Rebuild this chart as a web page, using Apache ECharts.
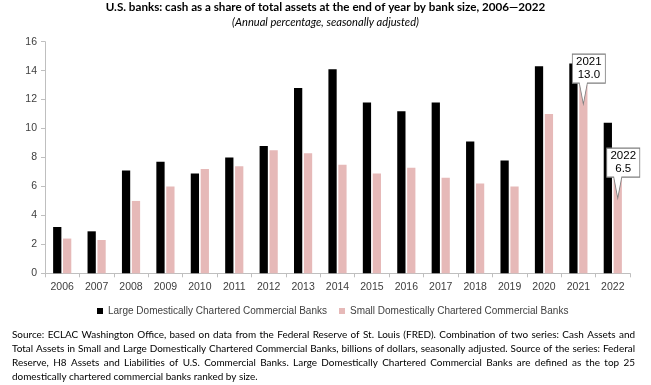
<!DOCTYPE html>
<html><head><meta charset="utf-8">
<script src="https://cdn.jsdelivr.net/npm/echarts@6/dist/echarts.min.js"></script>
<style>html,body{margin:0;padding:0;background:#fff}#c{width:651px;height:385px}</style>
</head><body><div id="c"></div>
<script>
const years = ['2006','2007','2008','2009','2010','2011','2012','2013','2014','2015','2016','2017','2018','2019','2020','2021','2022'];
const largeBanks = [3.2, 2.9, 7.1, 7.7, 6.9, 8.0, 8.8, 12.8, 14.1, 11.8, 11.2, 11.8, 9.1, 7.8, 14.3, 14.5, 10.4];
const smallBanks = [2.4, 2.3, 5.0, 6.0, 7.2, 7.4, 8.5, 8.3, 7.5, 6.9, 7.3, 6.6, 6.2, 6.0, 11.0, 13.0, 6.5];
const annotatedYears = ['2021', '2022'];
const yTicks = [0, 2, 4, 6, 8, 10, 12, 14, 16];
const seriesNames = ['Large Domestically Chartered Commercial Banks', 'Small Domestically Chartered Commercial Banks'];
const titleText = 'U.S. banks: cash as a share of total assets at the end of year by bank size, 2006\u20142022';
const subtitleText = '(Annual percentage, seasonally adjusted)';
const sourceLines = [
  'Source: ECLAC Washington Office, based on data from the Federal Reserve of St. Louis (FRED). Combination of two series: Cash Assets and',
  'Total Assets in Small and Large Domestically Chartered Commercial Banks, billions of dollars, seasonally adjusted. Source of the series: Federal',
  'Reserve, H8 Assets and Liabilities of U.S. Commercial Banks. Large Domestically Chartered Commercial Banks are defined as the top 25',
  'domestically chartered commercial banks ranked by size.'
];

const chart = echarts.init(document.getElementById('c'), null, {renderer: 'canvas'});
const ctx = document.createElement('canvas').getContext('2d');
function fitSize(text, weight, style, family, targetW) {
  ctx.font = style + ' ' + weight + ' 20px ' + family;
  return 20 * targetW / ctx.measureText(text).width;
}
const humanist = 'Lato, "Open Sans", sans-serif';

const titleSize = fitSize(titleText, 'bold', 'normal', humanist, 440);
const subSize = fitSize(subtitleText, 'normal', 'italic', humanist, 187);

// justified footnote
const srcSize = fitSize(sourceLines[3], 'normal', 'normal', humanist, 246);
const srcFont = srcSize.toFixed(2) + 'px ' + humanist;
ctx.font = srcFont;
const srcLeft = 12, srcRight = 635, srcTop = 335, srcLH = 13.8;
const footGraphics = [];
sourceLines.forEach((line, li) => {
  const y = srcTop + li * srcLH;
  const words = line.split(' ');
  const widths = words.map(w => ctx.measureText(w).width);
  const total = widths.reduce((a,b)=>a+b,0);
  let gap = (srcRight - srcLeft - total) / (words.length - 1);
  if (li === sourceLines.length - 1) gap = ctx.measureText(' ').width;
  let x = srcLeft;
  words.forEach((w, i) => {
    footGraphics.push({type:'text', x: x, y: y, silent: true,
      style:{text: w, font: srcFont, fill:'#000', textVerticalAlign:'middle', textAlign:'left'}});
    x += widths[i] + gap;
  });
});

const calloutPath = 'path://M0,0 L33,0 L33,29 L15,29 L11,50 L7,29 L0,29 Z';
const legendText = {fontSize: 10, color: '#404040', fontFamily: '"Liberation Sans", Arial, sans-serif'};

const option = {
  animation: false,
  textStyle: {fontFamily: '"Liberation Sans", Arial, sans-serif'},
  title: [
    {text: titleText, left: 'center', top: -4, textStyle: {fontFamily: humanist, fontWeight: 'bold', fontSize: titleSize, color: '#000'}},
    {text: subtitleText, left: 'center', top: 12, textStyle: {fontFamily: humanist, fontStyle: 'italic', fontWeight: 'normal', fontSize: subSize, color: '#000'}}
  ],
  legend: [
    {data: [seriesNames[0]], top: 301, left: 92, icon: 'rect', itemWidth: 6, itemHeight: 6, textStyle: legendText},
    {data: [seriesNames[1]], top: 301, left: 334, icon: 'rect', itemWidth: 6, itemHeight: 6, textStyle: legendText}
  ],
  grid: {left: 45, right: 21, top: 41.7, bottom: 111.7, containLabel: false},
  xAxis: {
    type: 'category', data: years,
    axisLine: {lineStyle: {color: '#BFBFBF'}},
    axisTick: {show: true, length: 4, lineStyle: {color: '#BFBFBF'}},
    axisLabel: {color: '#404040', fontSize: 10.5, margin: 8}
  },
  yAxis: {
    type: 'value', min: yTicks[0], max: yTicks[yTicks.length-1], interval: yTicks[1]-yTicks[0],
    axisLine: {show: true, lineStyle: {color: '#BFBFBF'}},
    axisTick: {show: true, length: 4, lineStyle: {color: '#BFBFBF'}},
    splitLine: {show: false},
    axisLabel: {color: '#404040', fontSize: 10.5, margin: 8}
  },
  series: [
    {name: seriesNames[0], type: 'bar', data: largeBanks, barWidth: '24%', barGap: '20%',
     itemStyle: {color: '#000000'}},
    {name: seriesNames[1], type: 'bar', data: smallBanks, barWidth: '24%', barGap: '20%',
     itemStyle: {color: '#E6B9B8'},
     markPoint: {
       symbol: calloutPath, symbolSize: [33, 50], symbolOffset: [5.5, -6], symbolKeepAspect: false,
       itemStyle: {color: '#fff', borderColor: '#7F7F7F', borderWidth: 1},
       label: {show: true, position: 'inside', offset: [0, -10.5], color: '#000', fontSize: 11.5, lineHeight: 13,
         fontFamily: '"Liberation Sans", Arial, sans-serif',
         formatter: p => p.name + '\n' + Number(p.value).toFixed(1)},
       data: annotatedYears.map(y => ({name: y, coord: [y, smallBanks[years.indexOf(y)]], value: smallBanks[years.indexOf(y)]}))
     }}
  ],
  graphic: footGraphics
};
chart.setOption(option);
</script></body></html>
